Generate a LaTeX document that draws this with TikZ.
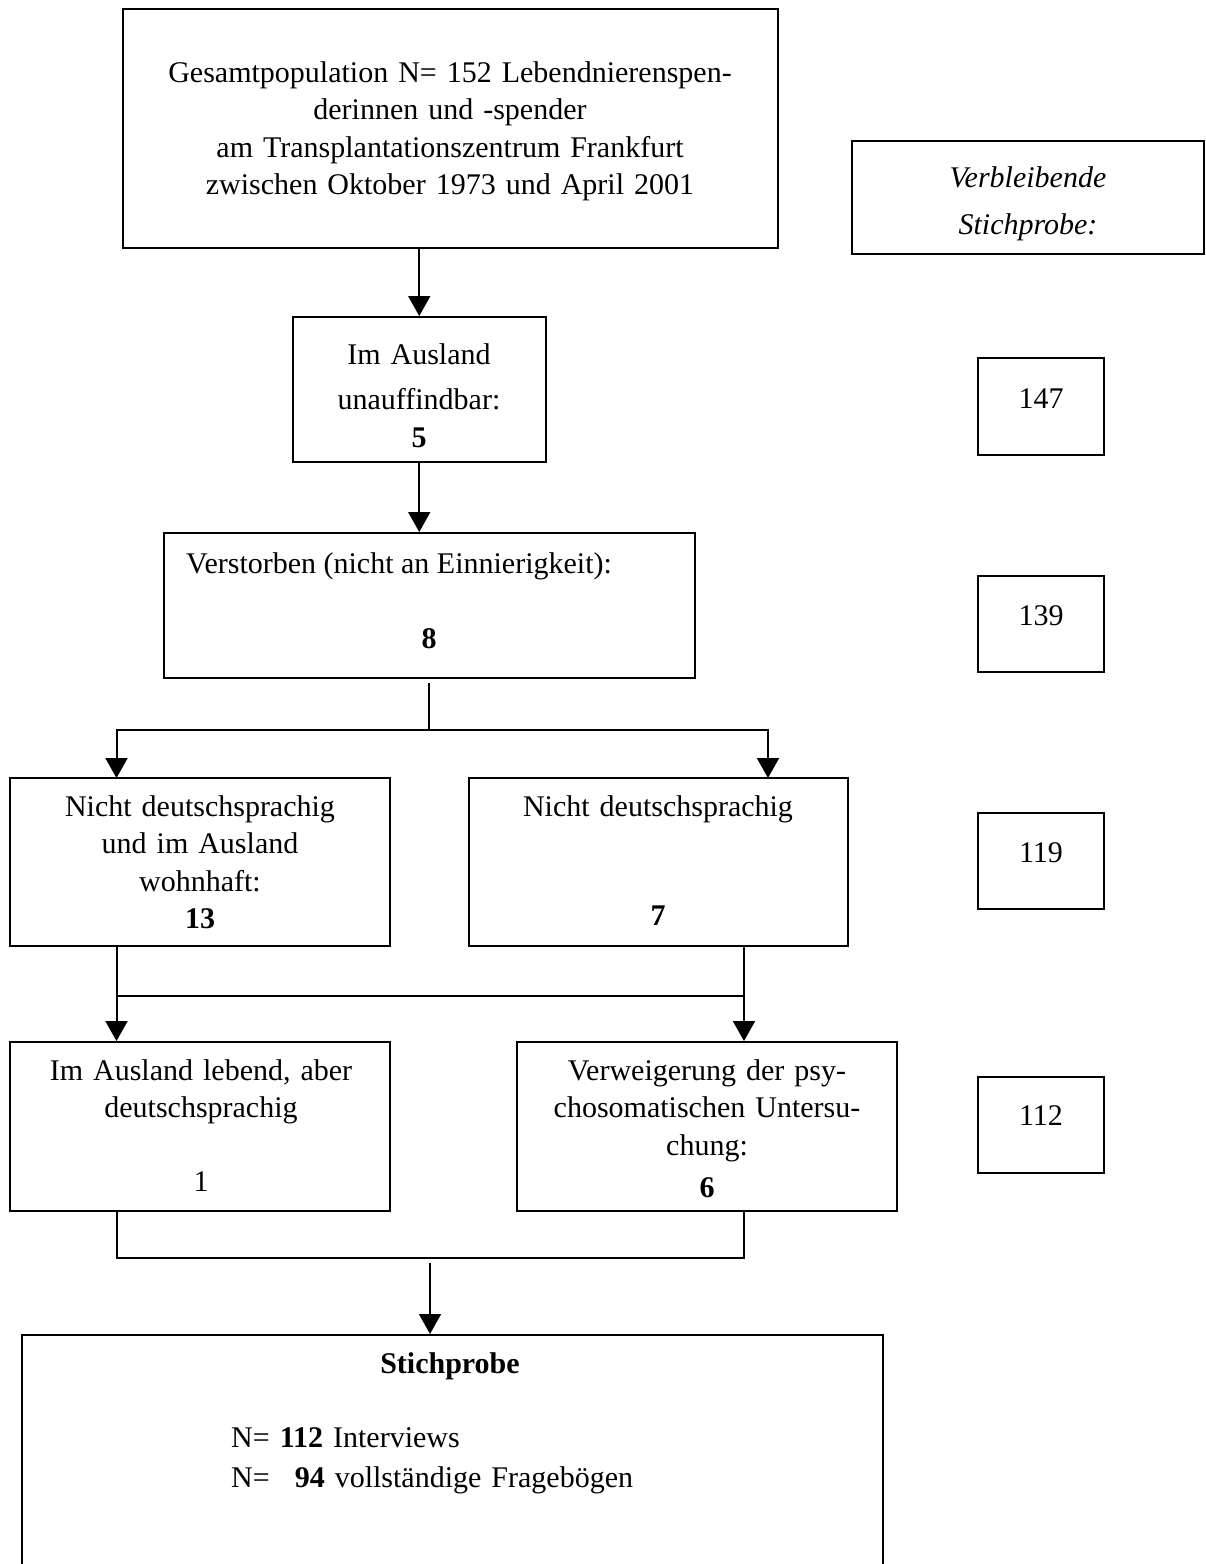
\documentclass[tikz,border=0pt]{standalone}
\usepackage{fontspec}
\setmainfont{Liberation Serif}
\usetikzlibrary{arrows.meta}

\begin{document}
\begin{tikzpicture}[x=1pt,y=1pt,yscale=-1,xscale=1,
		every node/.style={font=\fontsize{30}{37.5}\selectfont},
		flowbox/.style={draw, line width=2pt, inner sep=0pt},
		conn/.style={line width=2pt},
		thinconn/.style={line width=1.6pt},
		arr/.style={-{Triangle[length=20pt,width=22pt]}},
		lbl/.style={inner sep=0pt, anchor=base, text width=#1, align=center}]
		% Set diagram size: 1206 wide, 1564 high
		\useasboundingbox (0,0) rectangle (1206,1564);

		% Draw the boxes of the left column
		\node[flowbox, minimum width=655pt, minimum height=239pt] (total) at (450.5,128.5) {};
		\node[flowbox, minimum width=253.5pt, minimum height=145pt] (lost) at (419.25,389.5) {};
		\node[flowbox, minimum width=531pt, minimum height=145pt] (dead) at (429.5,605.5) {};
		\node[flowbox, minimum width=380pt, minimum height=168pt] (foreign) at (200,862) {};
		\node[flowbox, minimum width=379.5pt, minimum height=168pt] (nogerman) at (658.25,862) {};
		\node[flowbox, minimum width=380pt, minimum height=169pt] (abroad) at (200,1126.5) {};
		\node[flowbox, minimum width=380pt, minimum height=169pt] (refused) at (707,1126.5) {};
		\node[flowbox, minimum width=861pt, minimum height=265pt] (sample) at (452.5,1467.5) {};

		% Draw the boxes of the right column
		\node[flowbox, minimum width=352pt, minimum height=113pt] (remain) at (1028,197.5) {};
		\node[flowbox, minimum width=126pt, minimum height=97pt] (remA) at (1041,406.5) {};
		\node[flowbox, minimum width=126pt, minimum height=96pt] (remB) at (1041,624) {};
		\node[flowbox, minimum width=126pt, minimum height=96pt] (remC) at (1041,861) {};
		\node[flowbox, minimum width=126pt, minimum height=96pt] (remD) at (1041,1125) {};

		% Texts in the left column
		\node[lbl=640pt] (totaltxt) at (450,82) {Gesamtpopulation N= 152 Lebendnierenspen-\\derinnen und -spender\\am Transplantationszentrum Frankfurt\\zwischen Oktober 1973 und April 2001};
		\node[lbl=240pt] (losttxt) at (419,364) {Im Ausland\\[8pt]unauffindbar:\\\textbf{5}};
		\node[inner sep=0pt, anchor=base west] (deadtxt) at (186,573) {Verstorben (nicht an Einnierigkeit):};
		\node[lbl=60pt] (deadnum) at (429,648) {\textbf{8}};
		\node[lbl=360pt] (foreigntxt) at (200,816) {Nicht deutschsprachig\\und im Ausland\\wohnhaft:\\\textbf{13}};
		\node[lbl=360pt] (nogermantxt) at (658,816) {Nicht deutschsprachig};
		\node[lbl=60pt] (nogermannum) at (658,925) {\textbf{7}};
		\node[lbl=360pt] (abroadtxt) at (201,1080) {Im Ausland lebend, aber\\deutschsprachig};
		\node[lbl=60pt] (abroadnum) at (201,1191) {1};
		\node[lbl=370pt] (refusedtxt) at (707,1080) {Verweigerung der psy-\\chosomatischen Untersu-\\chung:\\[5pt]\textbf{6}};
		\node[lbl=300pt] (sampletxt) at (450,1373) {\textbf{Stichprobe}};
		\node[inner sep=0pt, anchor=base west, text width=560pt, align=left] (samplenum) at (231,1447) {N= \textbf{112} Interviews\\[2.5pt]N= \phantom{1}\textbf{94} vollständige Fragebögen};

		% Texts in the right column
		\node[lbl=340pt] (remaintxt) at (1028,187) {\textit{Verbleibende}\\[9.5pt]\textit{Stichprobe:}};
		\node[lbl=100pt] (remAtxt) at (1041,408) {147};
		\node[lbl=100pt] (remBtxt) at (1041,625) {139};
		\node[lbl=100pt] (remCtxt) at (1041,862) {119};
		\node[lbl=100pt] (remDtxt) at (1041,1125) {112};

		% Points where the connectors turn
		\coordinate (split) at (429,729.5);
		\coordinate (inL) at (116.5,778);
		\coordinate (inR) at (768,778);
		\coordinate (midR) at (744,995.6);
		\coordinate (join) at (430,1257.5);

		% Draw the arrows down the middle
		\draw[thinconn,arr] (total.south -| lost.north) -- (lost.north);
		\draw[thinconn,arr] (lost.south) -- (lost.south |- dead.north);
		\draw[thinconn] ([yshift=4pt]dead.south -| split) -- (split);
		\draw[conn,arr] (split) -| (inL);
		\draw[conn,arr] (split) -| (inR);

		% Draw the arrows into the lower pair of boxes
		\draw[conn,arr] (inL |- foreign.south) -- (inL |- abroad.north);
		\draw[conn,arr] (midR |- nogerman.south) -- (midR |- refused.north);
		\draw[conn] (inL |- midR) -- (midR);

		% Draw the bracket and the arrow to the sample
		\draw[conn] (inL |- abroad.south) |- (join) -| (midR |- refused.south);
		\draw[thinconn,arr] ([yshift=5.5pt]join) -- (join |- sample.north);
	\end{tikzpicture}
\end{document}
